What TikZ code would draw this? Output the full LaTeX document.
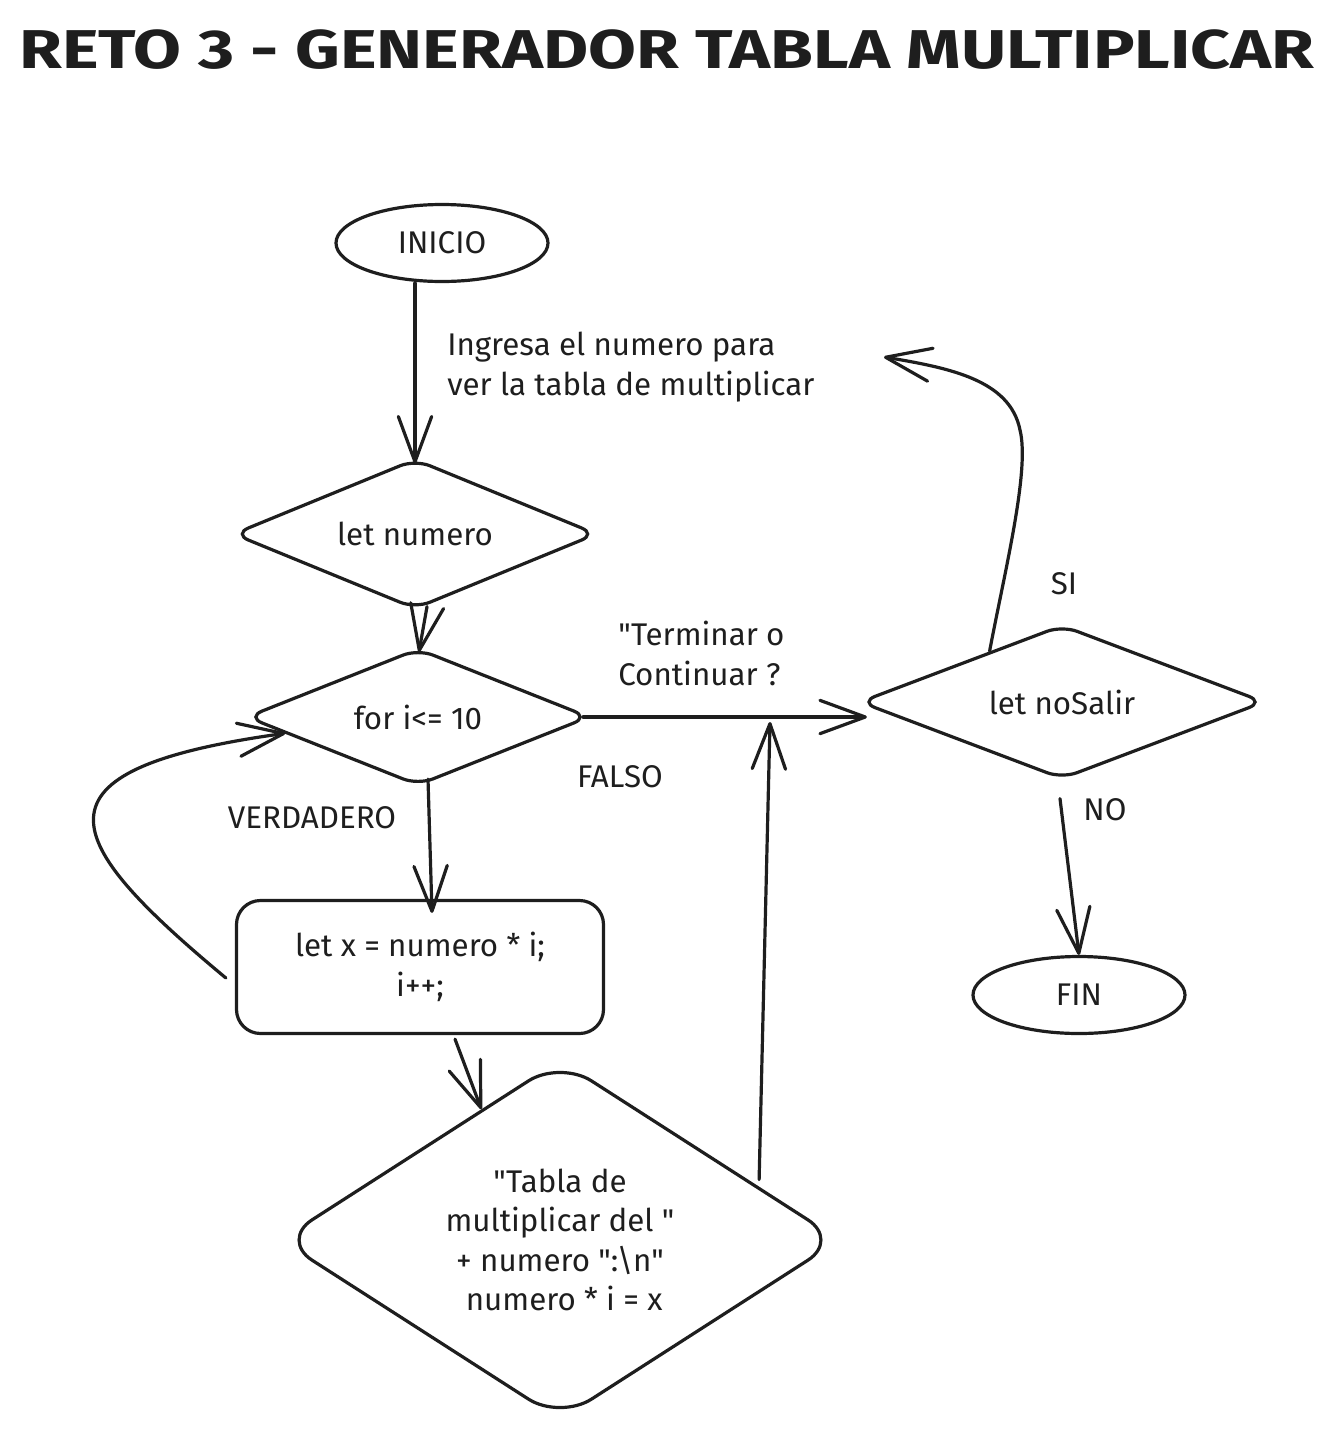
\documentclass[tikz,border=0pt]{standalone}
\usepackage{fontspec}
\newfontfamily\ff{Fira Sans}
\usetikzlibrary{shapes.geometric,arrows.meta,calc}
\definecolor{ink}{HTML}{1E1E1E}
\def\px{0.75pt}
\tikzset{
  base/.style={draw=ink, line width=2.4pt, text=ink, inner sep=0pt, font=\ff\fontsize{23.5}{29.5}\selectfont, align=center},
  ellip/.style={base, ellipse, minimum width=212*\px, minimum height=77*\px},
  dia/.style={base, diamond, rounded corners=12pt},
  boxnode/.style={base, rectangle, rounded corners=18pt},
  lbl/.style={text=ink, inner sep=0pt, font=\ff\fontsize{23.5}{29.5}\selectfont},
  arr/.style={draw=ink, line width=2.4pt, line cap=round, line join=round, -{Straight Barb[length=34pt,width=25pt,line cap=round,line join=round]}}
}
\begin{document}
\begin{tikzpicture}[x=0.75pt,y=-0.75pt]
\useasboundingbox (0,0) rectangle (1335,1439);
\node[text=ink, inner sep=0pt, font=\ff\fontsize{41}{48}\selectfont\bfseries] (title) at (667,50) {\scalebox{1.27}[1]{RETO 3 - GENERADOR TABLA MULTIPLICAR}};

\node[ellip] (inicio) at (442,243) {INICIO};
\node[dia, aspect=2.4, minimum width=364*\px, minimum height=150*\px] (num) at (415,534) {let numero};
\node[dia, aspect=2.5, minimum width=343*\px, minimum height=137*\px] (for) at (418,717) {for i<= 10};
\node[dia, aspect=2.6, minimum width=405*\px, minimum height=154*\px] (sal) at (1062,702) {let noSalir};
\node[ellip] (fin) at (1079,995) {FIN};
\node[boxnode, minimum width=367*\px, minimum height=133*\px] (calc) at (420,967) {let x = numero * i;\\i++;};
\node[dia, aspect=1.55, rounded corners=28pt, minimum width=560*\px, minimum height=360*\px] (tabla) at (560,1240) {"Tabla de\\multiplicar del "\\+ numero ":\textbackslash n"\\\ numero * i = x};

\node[lbl, anchor=north west, align=left] (ingresa) at (447,332) {Ingresa el numero para\\ver la tabla de multiplicar};
\node[lbl, anchor=north west, align=left] (term) at (618,621) {"Terminar o\\Continuar ?};
\node[lbl] (falso) at (620,777) {FALSO};
\node[lbl] (verd) at (312,818) {VERDADERO};
\node[lbl] (si) at (1064,584) {SI};
\node[lbl] (no) at (1105,810) {NO};

\coordinate (siend) at (884,357);
\coordinate (join) at (770,722);

\draw[arr] (inicio.south -| num.north) -- ($(num.north)+(0,6)$);
\draw[arr] ($(num.south)+(12,-4)$) -- ($(for.north)+(1,5)$);
\draw[arr] ($(for.east)+(-8,0)$) -- ($(for.east -| sal.west)+(9,0)$);
\draw[arr] (sal.145) .. controls (1005,570) and (1030,470) .. (1020,430) .. controls (1010,380) and (950,368) .. (siend);
\draw[arr] ($(sal.south)+(-2,18)$) -- (fin.north);
\draw[arr] ($(for.south)+(10,-8)$) -- ($(calc.north)+(12,14)$);
\draw[arr] ($(calc.west)+(-9,11)$) .. controls (60,840) and (20,770) .. (for.187);
\draw[arr] ($(calc.south)+(35,4)$) -- (tabla.121);
\draw[arr] ($(tabla.north)!0.70!(tabla.east)+(2,-6)$) -- (join);
\end{tikzpicture}
\end{document}
